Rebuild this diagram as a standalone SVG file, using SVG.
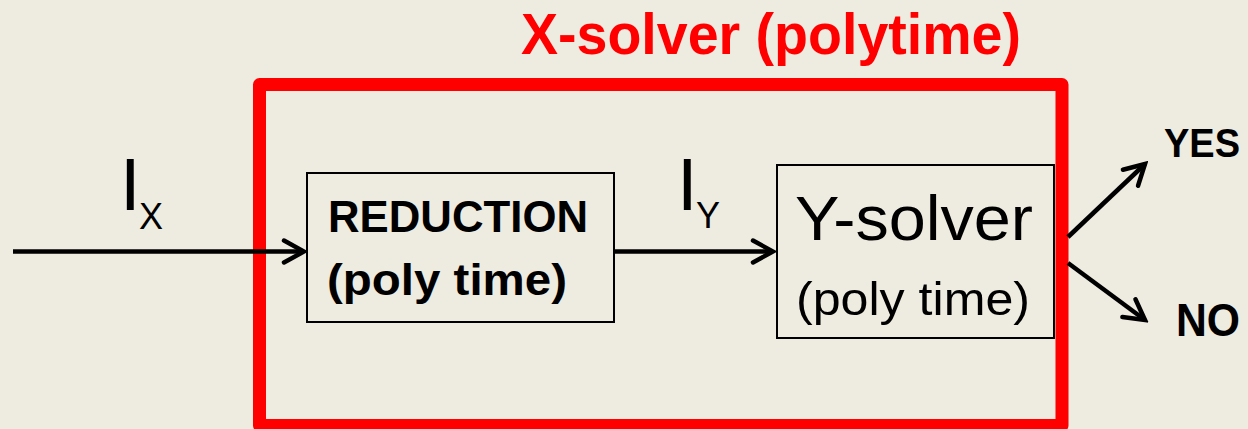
<svg xmlns="http://www.w3.org/2000/svg" width="1248" height="429" viewBox="0 0 1248 429">
<style>
.t{font-family:"Liberation Sans",Arial,sans-serif;fill:#000}
.b{font-weight:bold}
.box{fill:none;stroke:#000;stroke-width:2}
.ar{fill:none;stroke:#000;stroke-width:4.5}
</style>
<defs>
<marker id="chev" markerUnits="userSpaceOnUse" viewBox="-24 -14 28 28" refX="0" refY="0" markerWidth="28" markerHeight="28" orient="auto">
<path d="M-20,-11 L0,0 L-20,11" fill="none" stroke="#000" stroke-width="4.5" stroke-linecap="round" stroke-linejoin="miter"/>
</marker>
</defs>
<rect width="1248" height="429" fill="#EEEBE0"/>
<g id="xsolver">
<rect x="259.5" y="84.5" width="802.5" height="341" fill="none" stroke="#FF0000" stroke-width="13" stroke-linejoin="round"/>
<text class="t b" x="521" y="54" font-size="57" style="fill:#FF0000" textLength="500" lengthAdjust="spacingAndGlyphs">X-solver (polytime)</text>
</g>
<g id="reduction">
<rect class="box" x="307" y="173" width="307" height="149"/>
<text class="t b" x="328" y="232" font-size="45" textLength="260" lengthAdjust="spacingAndGlyphs">REDUCTION</text>
<text class="t b" x="327" y="295" font-size="45" textLength="240" lengthAdjust="spacingAndGlyphs">(poly time)</text>
</g>
<g id="ysolver">
<rect class="box" x="777" y="165" width="277" height="173"/>
<text class="t" x="795" y="240" font-size="63" textLength="238" lengthAdjust="spacingAndGlyphs">Y-solver</text>
<text class="t" x="796" y="315" font-size="46" textLength="234" lengthAdjust="spacingAndGlyphs">(poly time)</text>
</g>
<g id="labels">
<text class="t" x="120" y="210" font-size="74">I</text>
<text class="t" x="139" y="229" font-size="36">X</text>
<text class="t" x="677" y="210" font-size="74">I</text>
<text class="t" x="696" y="228" font-size="36">Y</text>
<text class="t b" x="1164" y="157" font-size="41" textLength="76" lengthAdjust="spacingAndGlyphs">YES</text>
<text class="t b" x="1176" y="336" font-size="46" textLength="64" lengthAdjust="spacingAndGlyphs">NO</text>
</g>
<g id="connectors">
<line class="ar" x1="13" y1="251.5" x2="304" y2="251.5" marker-end="url(#chev)"/>
<line class="ar" x1="614" y1="251.5" x2="773" y2="251.5" marker-end="url(#chev)"/>
<line class="ar" x1="1068" y1="237" x2="1145" y2="164" marker-end="url(#chev)"/>
<line class="ar" x1="1068" y1="263" x2="1145" y2="320" marker-end="url(#chev)"/>
</g>
</svg>
